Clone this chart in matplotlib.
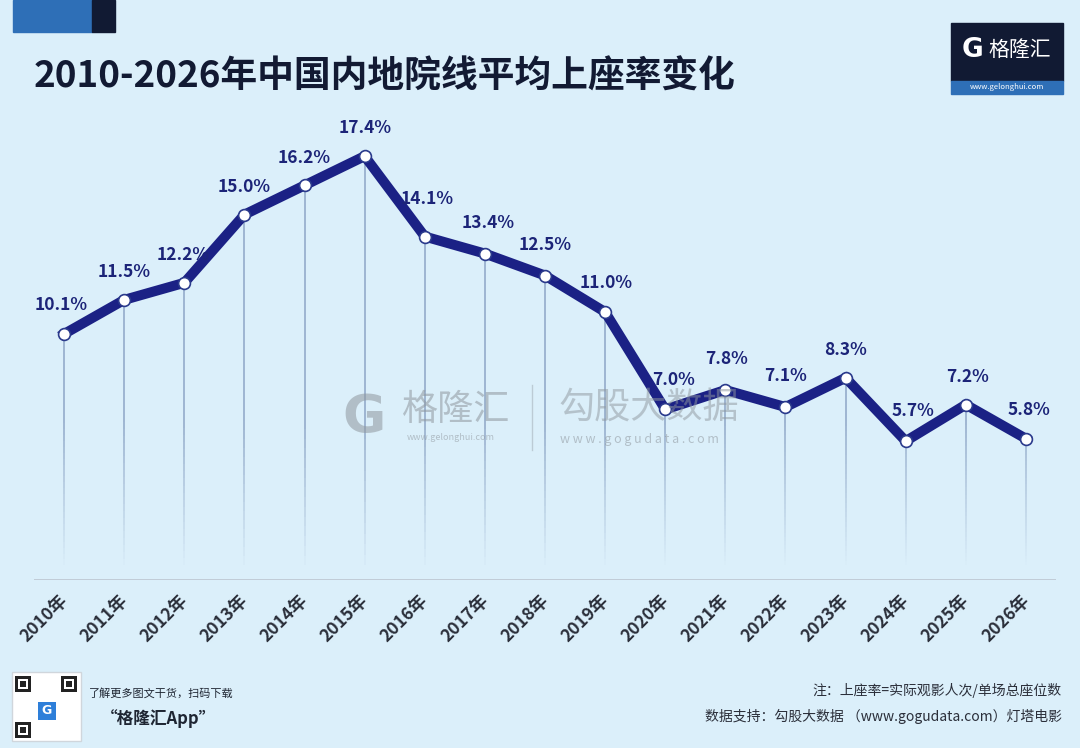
import matplotlib
matplotlib.use("Agg")
import matplotlib.pyplot as plt
import matplotlib.transforms as mtransforms
import numpy as np
from matplotlib.patches import Rectangle
from matplotlib.collections import LineCollection

plt.rcParams['font.family'] = ['Noto Sans CJK SC', 'DejaVu Sans']

years = [str(y) + '年' for y in range(2010, 2027)]
rates = [10.1, 11.5, 12.2, 15.0, 16.2, 17.4, 14.1, 13.4, 12.5, 11.0,
         7.0, 7.8, 7.1, 8.3, 5.7, 7.2, 5.8]
# label offsets (points) to keep text clear of the line
label_dx = [-2, 0, -1, 0, 0, 0, 2, 2, 0, 1, 6, 1, 0, 0, 5, 1, 2]
label_dy = [21, 20, 20, 20, 20, 20, 27, 22, 22, 21, 21, 22, 22, 20, 22, 20, 21]

BG = '#dbeffa'
NAVY = '#1b2185'

fig = plt.figure(figsize=(10.8, 7.48), dpi=100, facecolor=BG)
W, H = 1080, 748


def fx(px):
    return px / W


def fy(py):
    return 1 - py / H


ax = fig.add_axes([fx(34), fy(580), fx(1056) - fx(34), fy(100) - fy(580)])
ax.set_facecolor('none')
x = np.arange(len(years))
ax.set_xlim(-0.5, 16.5)
ax.set_ylim(0, 480 / 24.36)

# drop lines fading toward the bottom
for xi, yi in zip(x, rates):
    ys = np.linspace(yi, 0.6, 40)
    segs = [[(xi, ys[k]), (xi, ys[k + 1])] for k in range(len(ys) - 1)]
    frac = (ys[:-1] - 0.6) / 6.0
    alphas = np.clip(frac, 0, 1)
    cols = [(0.50, 0.60, 0.74, a * 0.85) for a in alphas]
    ax.add_collection(LineCollection(segs, colors=cols, linewidths=1.1, zorder=1))

ax.axhline(0, color='#bcc6d0', lw=1.2, zorder=1)

ax.plot(x, rates, color=NAVY, lw=7.2, solid_joinstyle='miter', zorder=3)
ax.plot(x, rates, 'o', ms=8.5, mfc='white', mec='#2a3a8c', mew=1.2, zorder=4)

for xi, yi, dx, dy in zip(x, rates, label_dx, label_dy):
    ax.annotate(f'{yi:.1f}%', (xi, yi), xytext=(dx, dy), textcoords='offset points',
                ha='center', va='center', fontsize=12.5, color='#1c2478',
                fontweight='bold', zorder=5)

ax.set_xticks(x)
ax.set_xticklabels(years, rotation=45, ha='right', rotation_mode='anchor',
                   fontsize=12.5, color='#2b2f3a', fontweight='bold')
ax.tick_params(axis='x', length=0, pad=8)
shift = mtransforms.ScaledTranslation(-6 / 100, 0, fig.dpi_scale_trans)
for lab in ax.get_xticklabels():
    lab.set_transform(lab.get_transform() + shift)
ax.set_yticks([])
for s in ax.spines.values():
    s.set_visible(False)

# watermark
fig.text(fx(342), fy(418), 'G', fontsize=38, fontweight='bold', color='#8f979e',
         alpha=0.55, va='center', ha='left', family=['DejaVu Sans'])
fig.text(fx(402), fy(410), '格隆汇', fontsize=26, color='#8f979e', alpha=0.55,
         va='center', ha='left')
fig.text(fx(407), fy(437), 'www.gelonghui.com', fontsize=6.5, color='#8f979e',
         alpha=0.55, va='center', ha='left')
fig.add_artist(plt.Line2D([fx(532), fx(532)], [fy(385), fy(450)], color='#8f979e',
                          alpha=0.4, lw=1))
fig.text(fx(558), fy(408), '勾股大数据', fontsize=26, color='#8f979e', alpha=0.5,
         va='center', ha='left')
fig.text(fx(560), fy(439), 'w w w . g o g u d a t a . c o m', fontsize=9,
         color='#8f979e', alpha=0.55, va='center', ha='left')

# top-left decoration
fig.add_artist(Rectangle((fx(13), fy(32)), fx(79), 32 / H, color='#2e6fb7',
                         transform=fig.transFigure))
fig.add_artist(Rectangle((fx(92), fy(32)), fx(23), 32 / H, color='#111a33',
                         transform=fig.transFigure))

fig.text(fx(34), fy(77), '2010-2026年中国内地院线平均上座率变化', fontsize=26.5,
         fontweight='bold', color='#121a33', va='center', ha='left')

# logo top right
fig.add_artist(Rectangle((fx(951), fy(81)), fx(112), 58 / H, color='#111a33',
                         transform=fig.transFigure))
fig.add_artist(Rectangle((fx(951), fy(94)), fx(112), 13 / H, color='#2e6fb7',
                         transform=fig.transFigure))
fig.text(fx(962), fy(50), 'G', fontsize=19, fontweight='bold', color='white',
         va='center', ha='left', family=['DejaVu Sans'])
fig.text(fx(988), fy(50), '格隆汇', fontsize=15, color='white', va='center', ha='left')
fig.text(fx(1007), fy(87), 'www.gelonghui.com', fontsize=5.5, color='white',
         va='center', ha='center')

# QR placeholder bottom left
fig.add_artist(Rectangle((fx(12), fy(741)), fx(69), 69 / H, facecolor='white',
                         edgecolor='#d0d6dc', transform=fig.transFigure))
for qx, qy in [(15, 676), (61, 676), (15, 722)]:
    fig.add_artist(Rectangle((fx(qx), fy(qy + 16)), fx(16), 16 / H, facecolor='#222',
                             transform=fig.transFigure))
    fig.add_artist(Rectangle((fx(qx + 3), fy(qy + 13)), fx(10), 10 / H, facecolor='white',
                             transform=fig.transFigure))
    fig.add_artist(Rectangle((fx(qx + 5), fy(qy + 11)), fx(6), 6 / H, facecolor='#222',
                             transform=fig.transFigure))
fig.add_artist(Rectangle((fx(38), fy(720)), fx(18), 18 / H, facecolor='#2e7fd9',
                         transform=fig.transFigure))
fig.text(fx(47), fy(711), 'G', fontsize=9, fontweight='bold', color='white',
         va='center', ha='center', family=['DejaVu Sans'])

fig.text(fx(89), fy(693), '了解更多图文干货，扫码下载', fontsize=8, style='italic',
         color='#1f2633', va='center', ha='left')
fig.text(fx(101), fy(719), '“格隆汇App”', fontsize=12, style='italic', fontweight='bold',
         color='#1f2633', va='center', ha='left')

fig.text(fx(1062), fy(691), '注：上座率=实际观影人次/单场总座位数', fontsize=10,
         color='#2b2f3a', va='center', ha='right')
fig.text(fx(1062), fy(716), '数据支持：勾股大数据 （www.gogudata.com）灯塔电影', fontsize=10,
         color='#2b2f3a', va='center', ha='right')

fig.savefig('out.png', dpi=100, facecolor=BG)
